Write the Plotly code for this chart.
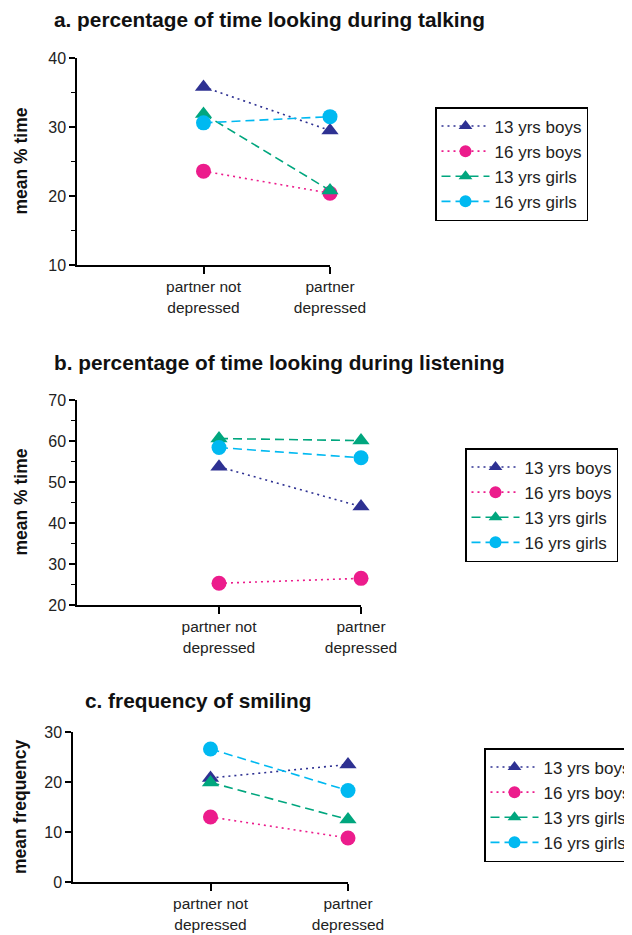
import plotly.graph_objects as go

categories = ["partner not<br>depressed", "partner<br>depressed"]
cat_pos = [1, 2]
series = ["13 yrs boys", "16 yrs boys", "13 yrs girls", "16 yrs girls"]

talking = {
    "13 yrs boys": [35.8, 29.5],
    "16 yrs boys": [23.6, 20.4],
    "13 yrs girls": [31.9, 20.8],
    "16 yrs girls": [30.6, 31.5],
}
listening = {
    "13 yrs boys": [53.7, 44.0],
    "16 yrs boys": [25.3, 26.5],
    "13 yrs girls": [60.6, 60.1],
    "16 yrs girls": [58.4, 55.9],
}
smiling = {
    "13 yrs boys": [20.8, 23.5],
    "16 yrs boys": [13.0, 8.8],
    "13 yrs girls": [19.9, 12.5],
    "16 yrs girls": [26.6, 18.3],
}

colors = {"13 yrs boys": "#2E3192", "16 yrs boys": "#EC1C8C",
          "13 yrs girls": "#00A67E", "16 yrs girls": "#00B9F1"}
symbols = {"13 yrs boys": "triangle-up", "16 yrs boys": "circle",
           "13 yrs girls": "triangle-up", "16 yrs girls": "circle"}
dashes = {"13 yrs boys": "2px,4px", "16 yrs boys": "2px,4px",
          "13 yrs girls": "9px,5px", "16 yrs girls": "9px,5px"}

OFF = 8  # page body margin
W, H = 632, 935 - OFF  # width runs past the window edge so the last legend is cut as in the original
FONT = "Liberation Sans, Arial, Helvetica, sans-serif"


def fx(px):
    return (px - OFF) / W


def fy(py):
    return 1 - (py - OFF) / H


panels = [
    dict(data=talking, title="a. percentage of time looking during talking",
         ytitle="mean % time", yr=[10, 40], dt=10, minor=True,
         x0=77, x1=330, y0=58, y1=265, tx=52, ty=20, ytx=20, leg=(435, 107)),
    dict(data=listening, title="b. percentage of time looking during listening",
         ytitle="mean % time", yr=[20, 70], dt=10, minor=True,
         x0=77, x1=361, y0=400, y1=605, tx=52, ty=362, ytx=20, leg=(465, 448)),
    dict(data=smiling, title="c. frequency of smiling",
         ytitle="mean frequency", yr=[0, 30], dt=10, minor=False,
         x0=73, x1=348, y0=732, y1=882, tx=83, ty=700, ytx=20, leg=(484, 748)),
]

fig = go.Figure()
annotations = []
layout = {}
for i, p in enumerate(panels):
    n = "" if i == 0 else str(i + 1)
    xa, ya = "x" + n, "y" + n
    leg = "legend" + n
    for s in series:
        fig.add_trace(go.Scatter(
            x=cat_pos, y=p["data"][s], name=s, mode="lines+markers",
            xaxis=xa, yaxis=ya, legend=leg, cliponaxis=False, showlegend=False,
            line=dict(color=colors[s], width=1.6, dash=dashes[s]),
            marker=dict(symbol=symbols[s], size=15, color=colors[s]),
        ))
        # legend entry with smaller marker, as in the original
        fig.add_trace(go.Scatter(
            x=[None], y=[None], name=s, mode="lines+markers",
            xaxis=xa, yaxis=ya, legend=leg, showlegend=True,
            line=dict(color=colors[s], width=1.6, dash=dashes[s]),
            marker=dict(symbol=symbols[s], size=12, color=colors[s]),
        ))
    layout["xaxis" + n] = dict(
        domain=[fx(p["x0"]), fx(p["x1"])], range=[0, 2], anchor=ya, automargin=False,
        tickvals=cat_pos, ticktext=categories, showline=True, linecolor="black",
        linewidth=1.5, ticks="outside", ticklen=7, tickwidth=1.5, tickcolor="black",
        showgrid=False, zeroline=False, tickfont=dict(size=15.5, color="#222", family=FONT),
    )
    yax = dict(
        domain=[fy(p["y1"]), fy(p["y0"])], range=p["yr"], anchor=xa,
        automargin=False,
        dtick=p["dt"], tick0=0, showline=True, linecolor="black", linewidth=1.5,
        ticks="outside", ticklen=6, tickwidth=1.5, tickcolor="black",
        showgrid=False, zeroline=False, tickfont=dict(size=16, color="#222", family=FONT),
    )
    if p["minor"]:
        yax["minor"] = dict(dtick=5, ticks="outside", ticklen=4, tickwidth=1.2,
                            tickcolor="black", showgrid=False)
    layout["yaxis" + n] = yax
    layout[leg] = dict(
        x=fx(p["leg"][0]), y=fy(p["leg"][1]), xanchor="left", yanchor="top",
        xref="container", yref="container",
        bordercolor="black", borderwidth=1.5, bgcolor="white",
        font=dict(size=17, color="#222", family=FONT), itemwidth=48,
    )
    annotations.append(dict(
        text="<b>" + p["title"] + "</b>", x=fx(p["tx"]), y=fy(p["ty"]),
        xref="paper", yref="paper", xanchor="left", yanchor="middle",
        showarrow=False, font=dict(size=20.8, color="#111", family=FONT),
    ))
    annotations.append(dict(
        text="<b>" + p["ytitle"] + "</b>", x=fx(p["ytx"]),
        y=fy((p["y0"] + p["y1"]) / 2), xref="paper", yref="paper",
        xanchor="center", yanchor="middle", textangle=-90, showarrow=False,
        font=dict(size=17.5, color="#111", family=FONT),
    ))

fig.update_layout(
    width=W, height=H, margin=dict(l=0, r=0, t=0, b=0, autoexpand=False),
    paper_bgcolor="white", plot_bgcolor="white",
    annotations=annotations, showlegend=True,
    font=dict(family=FONT), **layout,
)
fig.write_html("out.html")
